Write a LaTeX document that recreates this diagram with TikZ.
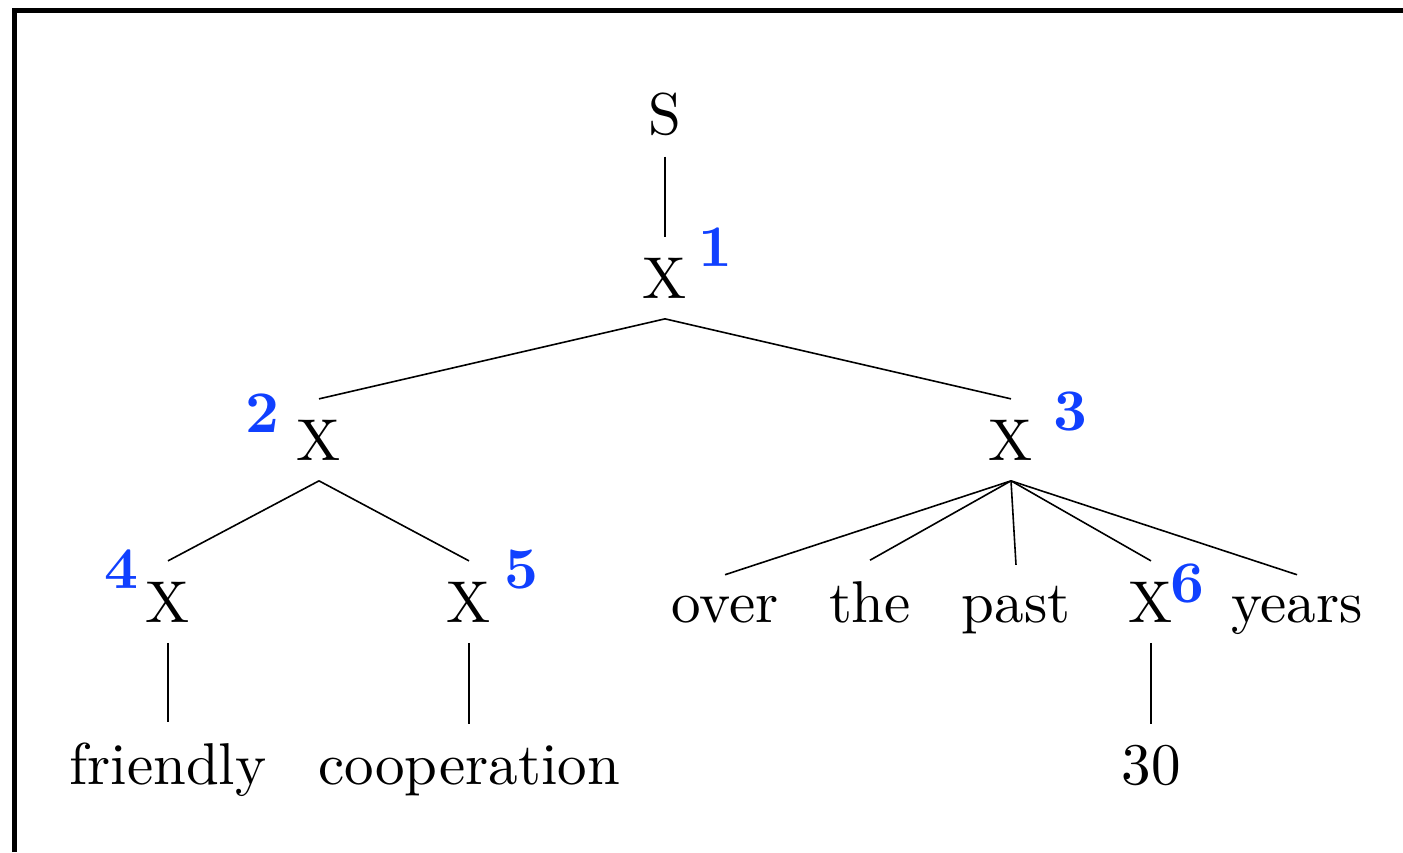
\documentclass[tikz,border=0pt]{standalone}
\definecolor{numblue}{RGB}{16,64,255}
\begin{document}
\begin{tikzpicture}[x=0.5pt,y=-0.5pt,
  word/.style={anchor=base,inner sep=3.333pt,scale=2.95,font=\fontsize{10}{12}\selectfont},
  num/.style={anchor=base,inner sep=0pt,scale=2.95,text=numblue,font=\fontsize{10}{12}\selectfont\bfseries},
  edge/.style={draw=black,line width=0.8pt},
  frame/.style={draw=black,line width=2.3pt}]
\useasboundingbox (0,0) rectangle (1403,852);
\draw[frame] (14.2,852) -- (14.2,10.7) -- (1403,10.7);
% words
\node[word] (s) at (665,134.5) {S};
\node[word] (x1) at (665,298) {X};
\node[word] (x2) at (319,460) {X};
\node[word] (x3) at (1011,460) {X};
\node[word] (x4) at (168,622) {X};
\node[word] (x5) at (469,622) {X};
\node[word] (over) at (725,622) {over};
\node[word] (the) at (870,622) {the};
\node[word] (past) at (1016,622) {past};
\node[word] (x6) at (1151,622) {X};
\node[word] (years) at (1297,622) {years};
\node[word] (friendly) at (168,784) {friendly};
\node[word] (coop) at (469,784) {cooperation};
\node[word] (thirty) at (1151,784) {30};
% labels
\node[num] (l1) at (715,266) {1};
\node[num] (l2) at (262,432) {2};
\node[num] (l3) at (1070,430) {3};
\node[num] (l4) at (121,588) {4};
\node[num] (l5) at (521,588) {5};
\node[num] (l6) at (1187,602) {6};
% edges
\draw[edge] (s.south) -- (x1.north);
\draw[edge] (x1.south) -- (x2.north);
\draw[edge] (x1.south) -- (x3.north);
\draw[edge] (x2.south) -- (x4.north);
\draw[edge] (x2.south) -- (x5.north);
\draw[edge] (x3.south) -- (over.north);
\draw[edge] (x3.south) -- (the.north);
\draw[edge] (x3.south) -- (past.north);
\draw[edge] (x3.south) -- (x6.north);
\draw[edge] (x3.south) -- (years.north);
\draw[edge] (x4.south) -- (friendly.north);
\draw[edge] (x5.south) -- (coop.north);
\draw[edge] (x6.south) -- (thirty.north);
\end{tikzpicture}
\end{document}
